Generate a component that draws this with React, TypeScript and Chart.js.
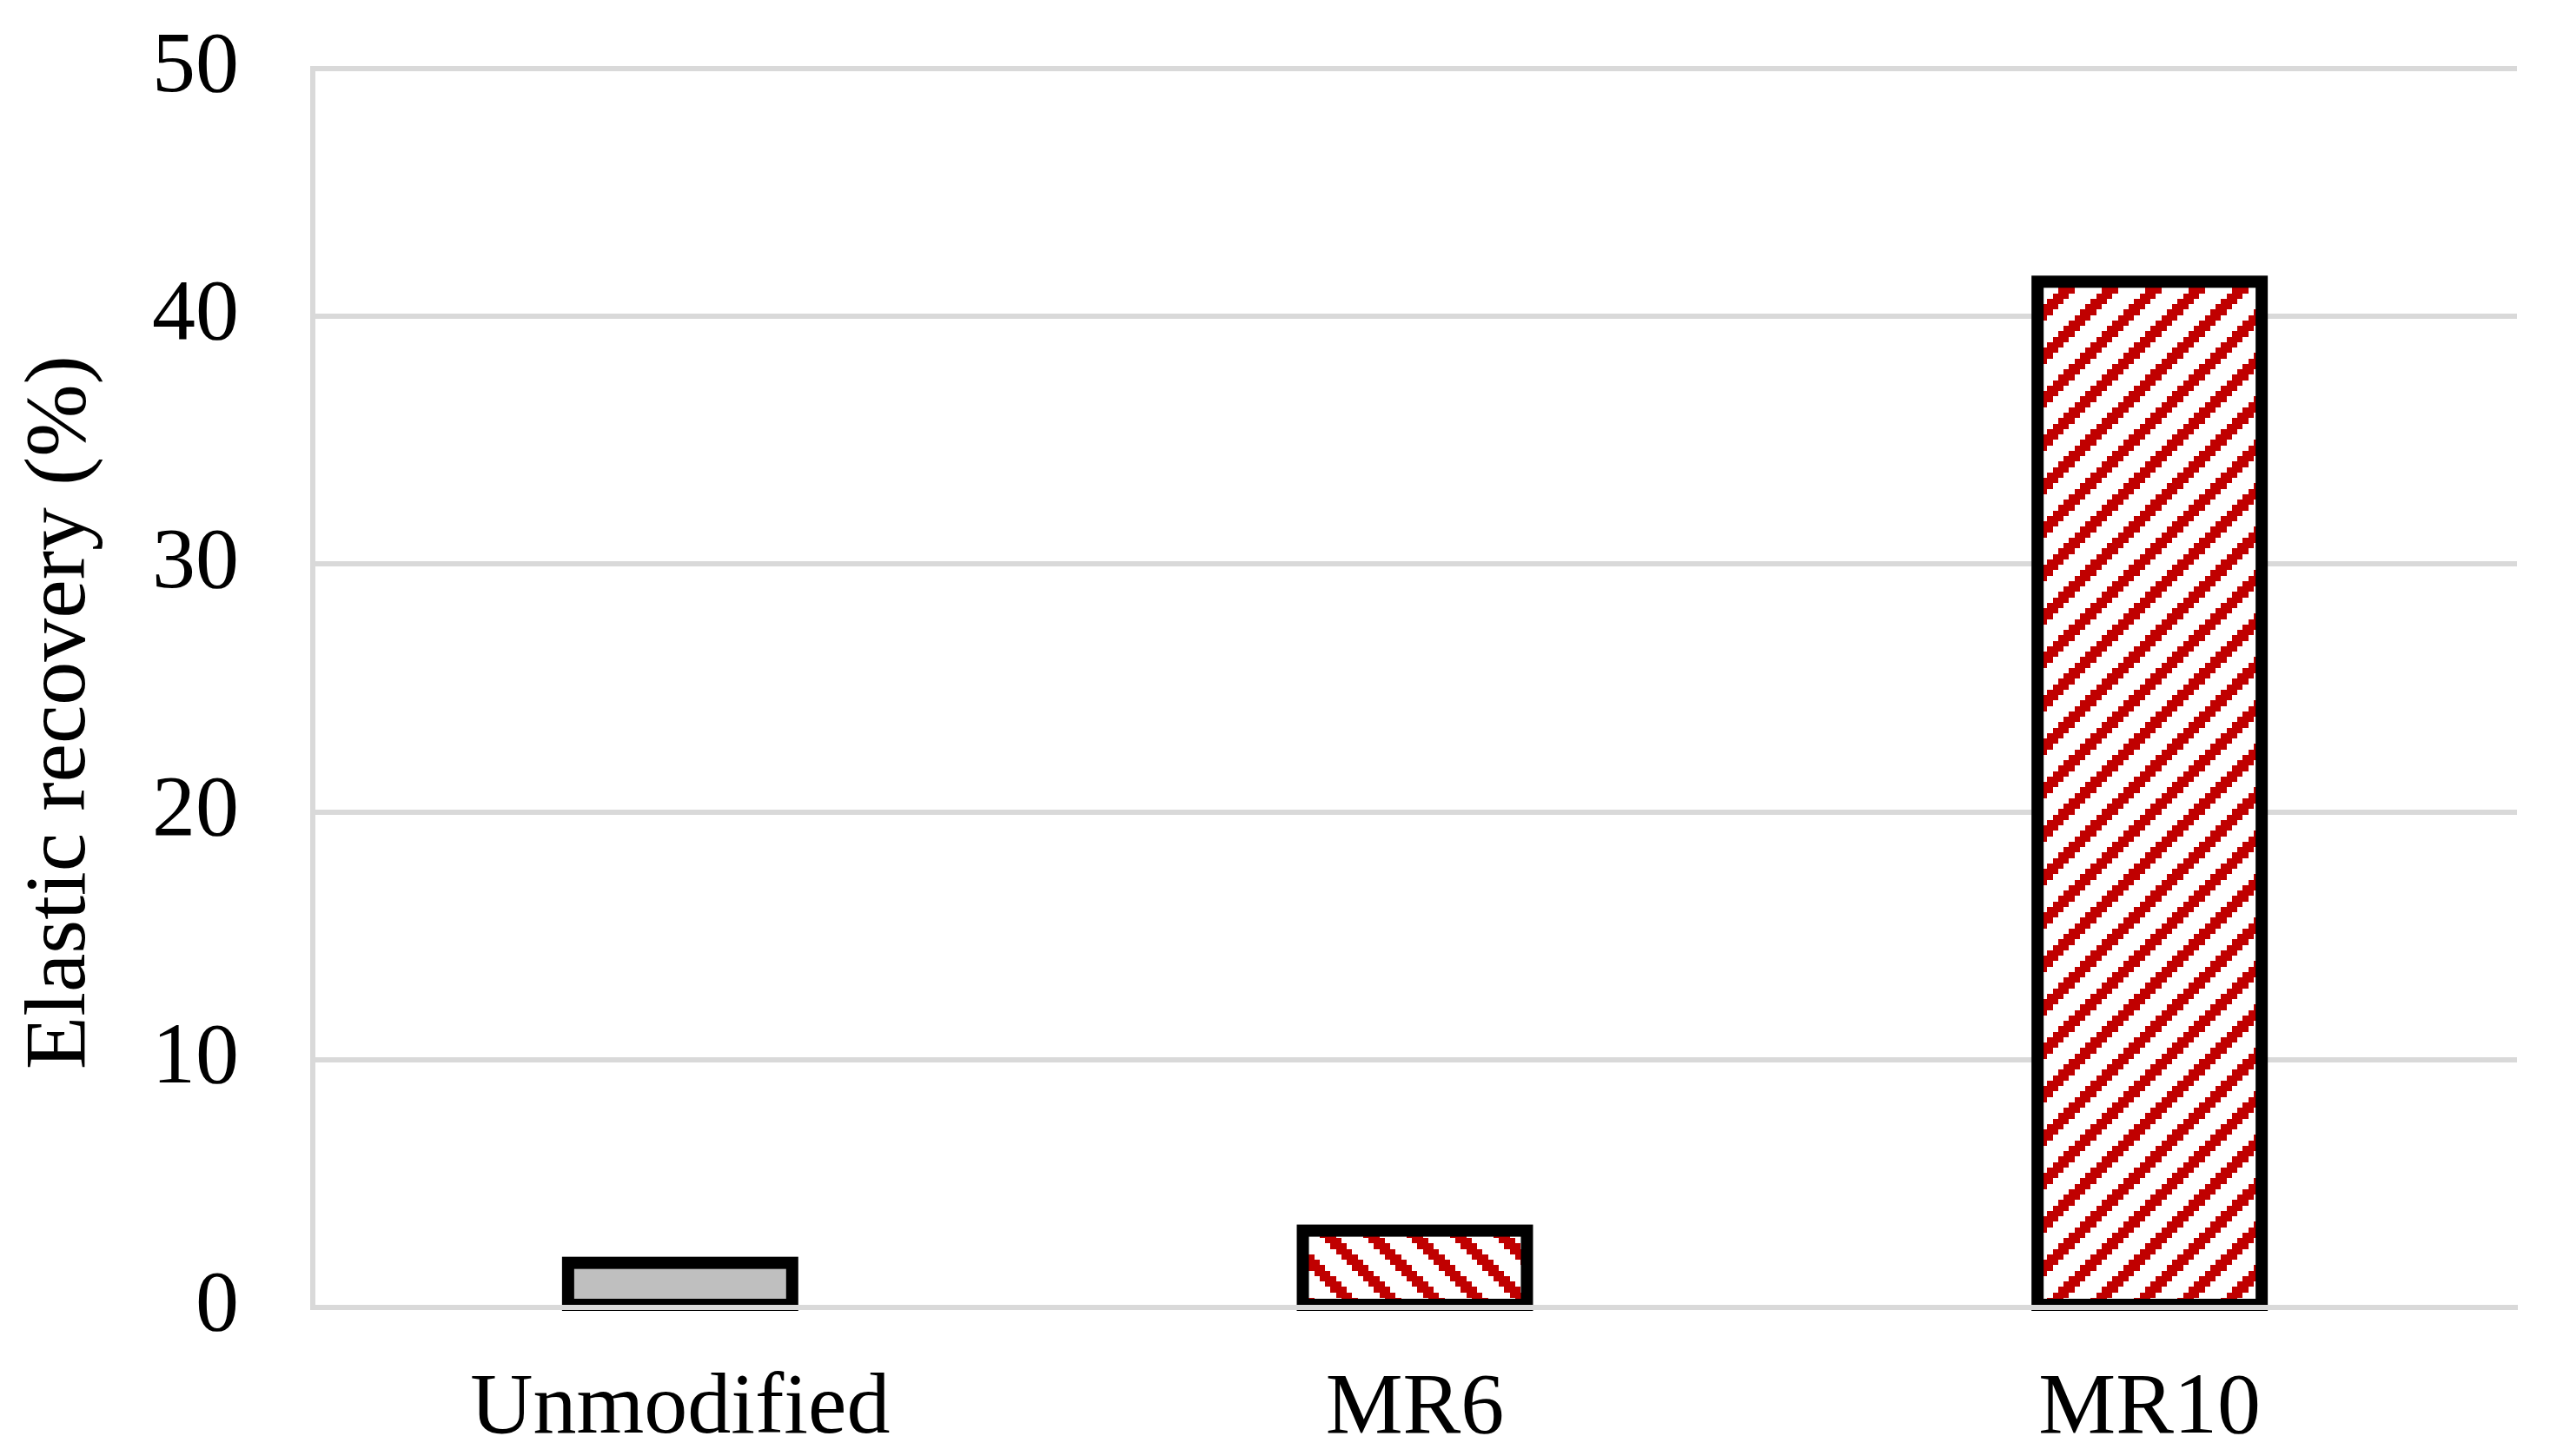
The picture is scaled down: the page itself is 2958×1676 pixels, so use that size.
import React, { useEffect, useRef } from 'react';
import { Chart, registerables } from 'chart.js';

Chart.register(...registerables);

const categories = ['Unmodified', 'MR6', 'MR10'];
const elasticRecovery = [1.8, 3.1, 41.4];
const yMin = 0;
const yMax = 50;
const yStep = 10;
const yTitle = 'Elastic recovery (%)';

const FONT = 'Liberation Serif';
const GRID = '#D9D9D9';
const RED = '#C00000';
const GRAY = '#BFBFBF';

// Excel-like "wide diagonal" hatch: an 8x8 bitmap scaled up to a 50px tile
function stripePattern(ctx: CanvasRenderingContext2D, dir: 'down' | 'up', color: string) {
  const size = 50;
  const n = 8;
  const cell = size / n;
  const c = document.createElement('canvas');
  c.width = size;
  c.height = size;
  const g = c.getContext('2d')!;
  g.fillStyle = '#FFFFFF';
  g.fillRect(0, 0, size, size);
  g.fillStyle = color;
  for (let r = 0; r < n; r++) {
    for (let col = 0; col < n; col++) {
      const v = dir === 'down' ? (((col - r) % n) + n) % n : (col + r) % n;
      if (v < 3) {
        const x0 = Math.round(col * cell);
        const x1 = Math.round((col + 1) * cell);
        const y0 = Math.round(r * cell);
        const y1 = Math.round((r + 1) * cell);
        g.fillRect(x0, y0, x1 - x0, y1 - y0);
      }
    }
  }
  return ctx.createPattern(c, 'repeat') as CanvasPattern;
}

// Excel-style outline: stroke centred on the bar edge
const barOutline = {
  id: 'barOutline',
  afterDatasetsDraw(chart: any) {
    const ctx = chart.ctx;
    const meta = chart.getDatasetMeta(0);
    ctx.save();
    ctx.lineWidth = 14;
    ctx.strokeStyle = '#000000';
    ctx.lineJoin = 'miter';
    meta.data.forEach((el: any) => {
      const { x, y, base, width } = el.getProps(['x', 'y', 'base', 'width'], true);
      ctx.strokeRect(x - width / 2, y, width, base - y);
    });
    ctx.restore();
  },
};

// Vertical axis title
const yTitlePlugin = {
  id: 'yTitlePlugin',
  afterDraw(chart: any) {
    const ctx = chart.ctx;
    const area = chart.chartArea;
    ctx.save();
    ctx.translate(71, (area.top + area.bottom) / 2 + 28);
    ctx.rotate(-Math.PI / 2);
    ctx.font = `100px "${FONT}"`;
    ctx.fillStyle = '#000000';
    ctx.textAlign = 'center';
    ctx.textBaseline = 'middle';
    ctx.fillText(yTitle, 0, 0);
    ctx.restore();
  },
};

export default function App() {
  const ref = useRef<HTMLCanvasElement | null>(null);

  useEffect(() => {
    const canvas = ref.current;
    if (!canvas) return;
    const ctx = canvas.getContext('2d')!;
    const fills = [GRAY, stripePattern(ctx, 'down', RED), stripePattern(ctx, 'up', RED)];

    const chart = new Chart(ctx, {
      type: 'bar',
      data: {
        labels: categories,
        datasets: [
          {
            data: elasticRecovery,
            backgroundColor: fills as any,
            borderWidth: 0,
            barPercentage: 0.305,
            categoryPercentage: 1,
          },
        ],
      },
      plugins: [barOutline, yTitlePlugin],
      options: {
        responsive: false,
        animation: false,
        layout: { padding: { left: 0, top: 79, right: 61, bottom: 0 } },
        plugins: {
          legend: { display: false },
          tooltip: { enabled: false },
        },
        scales: {
          x: {
            grid: { display: false, drawTicks: false },
            border: { display: true, color: GRID, width: 6, z: 1 },
            ticks: {
              font: { family: FONT, size: 100, lineHeight: 1.2 },
              color: '#000000',
              padding: 58,
              maxRotation: 0,
              autoSkip: false,
            },
            afterFit: (s: any) => {
              s.height = 171;
              s.paddingLeft = 0;
              s.paddingRight = 0;
            },
          },
          y: {
            min: yMin,
            max: yMax,
            ticks: {
              stepSize: yStep,
              font: { family: FONT, size: 100, lineHeight: 1.2 },
              color: '#000000',
              padding: 85,
            },
            grid: { color: GRID, lineWidth: 6, drawTicks: false },
            border: { display: true, color: GRID, width: 6 },
            afterFit: (s: any) => {
              s.width = 360;
              s.paddingTop = 0;
              s.paddingBottom = 0;
            },
          },
        },
      },
    });
    return () => chart.destroy();
  }, []);

  return (
    <div style={{ position: 'fixed', left: 0, top: 0, width: 2958, height: 1676, background: '#fff' }}>
      <canvas ref={ref} width={2958} height={1676} style={{ display: 'block' }} />
    </div>
  );
}
